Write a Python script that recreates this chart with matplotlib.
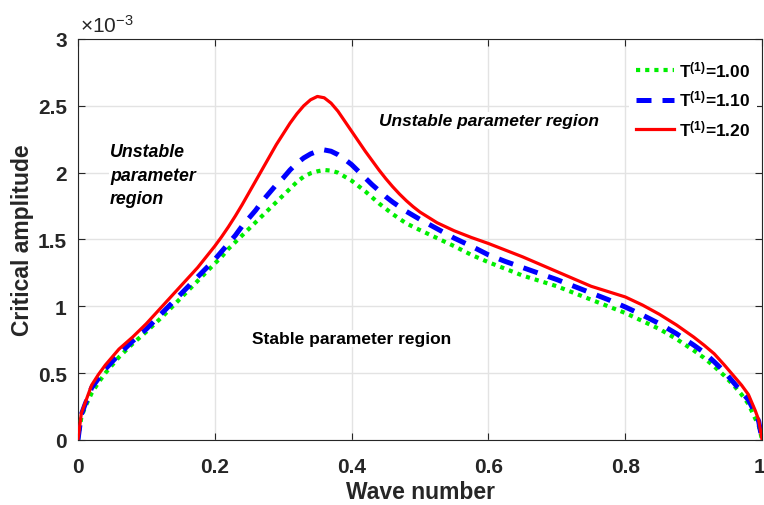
import matplotlib
matplotlib.use('Agg')
import matplotlib.pyplot as plt
from matplotlib.transforms import ScaledTranslation

plt.rcParams['font.family'] = ['Liberation Sans', 'DejaVu Sans']
plt.rcParams['mathtext.fontset'] = 'custom'
plt.rcParams['mathtext.rm'] = 'Liberation Sans'
plt.rcParams['mathtext.bf'] = 'Liberation Sans:bold'
plt.rcParams['mathtext.it'] = 'Liberation Sans:italic'

# wave number grid and critical amplitudes (in units of 1e-3)
wave_number = [0, 0.005, 0.01, 0.02, 0.03, 0.04, 0.06, 0.08, 0.1, 0.125, 0.15, 0.175, 0.2,
               0.21, 0.22, 0.23, 0.24, 0.25, 0.26, 0.27, 0.28, 0.29, 0.3,
               0.31, 0.32, 0.33, 0.34, 0.35, 0.36, 0.37, 0.38, 0.39, 0.4,
               0.41, 0.42, 0.43, 0.44, 0.45, 0.46, 0.47, 0.48, 0.49, 0.5,
               0.525, 0.55, 0.575, 0.6, 0.625, 0.65, 0.675, 0.7, 0.725, 0.75,
               0.775, 0.8, 0.825, 0.85, 0.875, 0.9, 0.915, 0.93, 0.945, 0.96,
               0.97, 0.98, 0.99, 0.995, 1.0]

amp_T100 = [0, 0.17, 0.24, 0.35, 0.43, 0.50, 0.62, 0.72, 0.81, 0.93, 1.06, 1.19, 1.32,
            1.37, 1.43, 1.48, 1.53, 1.58, 1.63, 1.68, 1.73, 1.78, 1.83,
            1.88, 1.93, 1.97, 1.995, 2.01, 2.02, 2.015, 2.00, 1.97, 1.94,
            1.90, 1.86, 1.815, 1.77, 1.73, 1.69, 1.655, 1.62, 1.595, 1.57,
            1.51, 1.45, 1.385, 1.33, 1.28, 1.23, 1.19, 1.15, 1.10, 1.05,
            1.00, 0.95, 0.89, 0.83, 0.755, 0.67, 0.615, 0.55, 0.48, 0.40,
            0.34, 0.27, 0.16, 0.11, 0]

amp_T110 = [0, 0.19, 0.26, 0.39, 0.46, 0.53, 0.64, 0.74, 0.83, 0.96, 1.09, 1.22, 1.35,
            1.41, 1.47, 1.53, 1.60, 1.66, 1.72, 1.79, 1.85, 1.91, 1.96,
            2.02, 2.07, 2.11, 2.14, 2.16, 2.17, 2.16, 2.135, 2.10, 2.06,
            2.01, 1.96, 1.91, 1.865, 1.82, 1.78, 1.745, 1.71, 1.68, 1.65,
            1.58, 1.51, 1.45, 1.385, 1.335, 1.29, 1.245, 1.20, 1.15, 1.10,
            1.05, 0.995, 0.935, 0.87, 0.795, 0.71, 0.655, 0.585, 0.51, 0.42,
            0.36, 0.30, 0.20, 0.14, 0]

amp_T120 = [0, 0.20, 0.27, 0.41, 0.49, 0.56, 0.68, 0.77, 0.87, 1.01, 1.15, 1.29, 1.45,
            1.52, 1.595, 1.675, 1.76, 1.85, 1.94, 2.03, 2.12, 2.21, 2.29,
            2.37, 2.44, 2.50, 2.545, 2.57, 2.56, 2.52, 2.46, 2.385, 2.31,
            2.235, 2.16, 2.09, 2.02, 1.955, 1.895, 1.84, 1.79, 1.745, 1.705,
            1.625, 1.565, 1.515, 1.47, 1.42, 1.37, 1.315, 1.26, 1.205, 1.15,
            1.11, 1.07, 1.01, 0.94, 0.86, 0.77, 0.71, 0.645, 0.56, 0.47,
            0.41, 0.34, 0.22, 0.15, 0]

xticks = [0, 0.2, 0.4, 0.6, 0.8, 1]
xtick_labels = ['0', '0.2', '0.4', '0.6', '0.8', '1']
yticks = [0, 0.5, 1, 1.5, 2, 2.5, 3]
ytick_labels = ['0', '0.5', '1', '1.5', '2', '2.5', '3']

tick_color = '#262626'

fig = plt.figure(figsize=(7.64, 5.06), dpi=100)
ax = fig.add_axes([0.102, 0.1285, 0.8955, 0.7925])

ax.plot(wave_number, amp_T100, color='#00ee00', lw=3.0, linestyle=(0, (1, 1.2)),
        label=r'$\mathbf{T^{(1)}}$=1.00', zorder=3)
ax.plot(wave_number, amp_T110, color='#0000ff', lw=3.6, linestyle=(0, (3, 2.2)),
        label=r'$\mathbf{T^{(1)}}$=1.10', zorder=3)
ax.plot(wave_number, amp_T120, color='#ff0000', lw=2.3, linestyle='-',
        solid_joinstyle='round', label=r'$\mathbf{T^{(1)}}$=1.20', zorder=3)

ax.set_xlim(0, 1)
ax.set_ylim(0, 3)
ax.set_xticks(xticks)
ax.set_xticklabels(xtick_labels)
ax.set_yticks(yticks)
ax.set_yticklabels(ytick_labels)
ax.grid(True, color='#e3e3e3', lw=1.0)
ax.set_axisbelow(True)
ax.tick_params(direction='in', length=5, width=0.8, top=True, right=True,
               labelsize=15, colors=tick_color)
ax.tick_params(axis='x', pad=12)
ax.tick_params(axis='y', pad=8)
for lbl in ax.get_xticklabels() + ax.get_yticklabels():
    lbl.set_fontweight('bold')
# keep the last x label inside the canvas
last = ax.get_xticklabels()[-1]
last.set_transform(last.get_transform() + ScaledTranslation(-3 / 100, 0, fig.dpi_scale_trans))
for sp in ax.spines.values():
    sp.set_color(tick_color)
    sp.set_linewidth(0.8)

ax.set_xlabel('Wave number', fontsize=16.5, fontweight='bold', color=tick_color, labelpad=3)
ax.set_ylabel('Critical amplitude', fontsize=16.5, fontweight='bold', color=tick_color, labelpad=3)

ax.text(0.003, 1.0175, r'$\mathregular{\times10^{-3}}$', transform=ax.transAxes,
        fontsize=15, color=tick_color, ha='left', va='baseline')

box = dict(facecolor='white', edgecolor='none', pad=1)
ax.text(0.44, 2.39, 'Unstable parameter region', fontsize=12.5, fontweight='bold',
        style='italic', ha='left', va='center', bbox=box, zorder=2)
ax.text(0.047, 1.98, 'Unstable\nparameter\nregion', fontsize=12.8, fontweight='bold',
        style='italic', ha='left', va='center', linespacing=1.5, bbox=box, zorder=2)
ax.text(0.254, 0.76, 'Stable parameter region', fontsize=12.5, fontweight='bold',
        ha='left', va='center', bbox=box, zorder=2)

leg = ax.legend(loc='upper right', bbox_to_anchor=(0.998, 0.975),
                prop={'size': 12.5, 'weight': 'bold'}, frameon=True, handlelength=2.2,
                handletextpad=0.3, labelspacing=0.55, borderaxespad=0.2,
                fancybox=False)
leg.get_frame().set_edgecolor('none')
leg.get_frame().set_facecolor('white')
leg.get_frame().set_alpha(1)

fig.savefig('out.png', dpi=100)
